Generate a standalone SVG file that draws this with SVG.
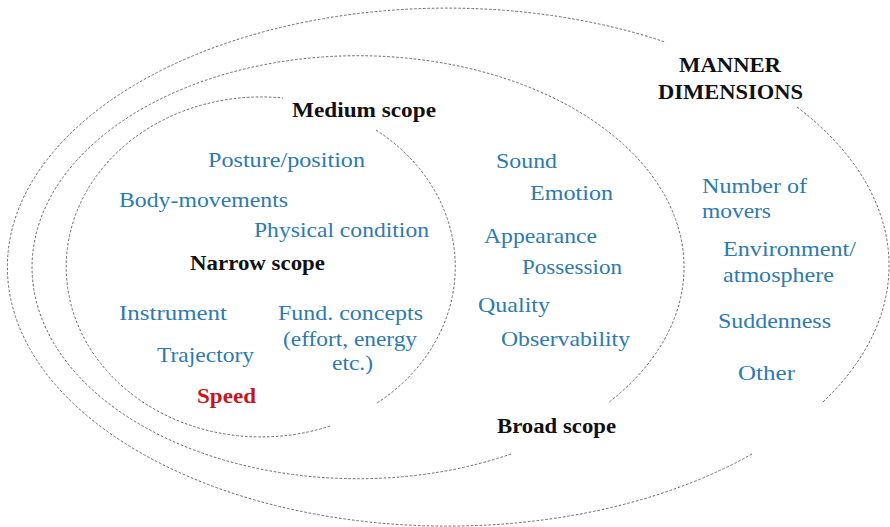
<svg xmlns="http://www.w3.org/2000/svg" width="890" height="527" viewBox="0 0 890 527">
<style>
.arc{fill:none;stroke:#6a6a6a;stroke-width:1;stroke-dasharray:2.6 1.8}
text{font-family:'Liberation Serif','Times New Roman','Noto Serif','DejaVu Serif',Times,serif}
.t{font-size:21px;fill:#2d7aae}
.h{font-size:20px;font-weight:bold;fill:#111}
.r{font-size:20px;font-weight:bold;fill:#c4161c}
</style>
<rect width="890" height="527" fill="#fff"/>
<g id="connectors">
<path class="arc" d="M376,130 A195,170 0 0 1 377,403"/>
<path class="arc" d="M330,426 A195,170 0 1 1 283,98"/>
<path class="arc" d="M511,454 A326,211.5 0 1 1 608,403"/>
<path class="arc" d="M797,107 A440,259 0 0 1 823,402"/>
<path class="arc" d="M752,454 A440,259 0 1 1 665,42"/>
</g>
<g id="manner-dimensions"><text class="h" x="730" y="72" text-anchor="middle" textLength="102" lengthAdjust="spacingAndGlyphs">MANNER</text><text class="h" x="730.5" y="99" text-anchor="middle" textLength="145" lengthAdjust="spacingAndGlyphs">DIMENSIONS</text></g>
<g id="medium-scope"><text class="h" x="292" y="117" textLength="144" lengthAdjust="spacingAndGlyphs">Medium scope</text></g>
<g id="narrow-scope"><text class="h" x="190" y="270" textLength="135" lengthAdjust="spacingAndGlyphs">Narrow scope</text></g>
<g id="broad-scope"><text class="h" x="497" y="433" textLength="119" lengthAdjust="spacingAndGlyphs">Broad scope</text></g>
<g id="posture"><text class="t" x="208" y="167" textLength="157" lengthAdjust="spacingAndGlyphs">Posture/position</text></g>
<g id="body-movements"><text class="t" x="119" y="207" textLength="169" lengthAdjust="spacingAndGlyphs">Body-movements</text></g>
<g id="physical-condition"><text class="t" x="254" y="237" textLength="175" lengthAdjust="spacingAndGlyphs">Physical condition</text></g>
<g id="instrument"><text class="t" x="119" y="320" textLength="108" lengthAdjust="spacingAndGlyphs">Instrument</text></g>
<g id="trajectory"><text class="t" x="157" y="362" textLength="97" lengthAdjust="spacingAndGlyphs">Trajectory</text></g>
<g id="speed"><text class="r" x="197" y="403" textLength="59" lengthAdjust="spacingAndGlyphs">Speed</text></g>
<g id="fund-concepts"><text class="t" x="350.5" y="320" text-anchor="middle" textLength="145" lengthAdjust="spacingAndGlyphs">Fund. concepts</text><text class="t" x="350" y="346" text-anchor="middle" textLength="134" lengthAdjust="spacingAndGlyphs">(effort, energy</text><text class="t" x="352.5" y="370" text-anchor="middle" textLength="41" lengthAdjust="spacingAndGlyphs">etc.)</text></g>
<g id="sound"><text class="t" x="496" y="168" textLength="61" lengthAdjust="spacingAndGlyphs">Sound</text></g>
<g id="emotion"><text class="t" x="530" y="200" textLength="83" lengthAdjust="spacingAndGlyphs">Emotion</text></g>
<g id="appearance"><text class="t" x="484" y="243" textLength="113" lengthAdjust="spacingAndGlyphs">Appearance</text></g>
<g id="possession"><text class="t" x="522" y="274" textLength="100" lengthAdjust="spacingAndGlyphs">Possession</text></g>
<g id="quality"><text class="t" x="478" y="312" textLength="72" lengthAdjust="spacingAndGlyphs">Quality</text></g>
<g id="observability"><text class="t" x="501" y="346" textLength="129" lengthAdjust="spacingAndGlyphs">Observability</text></g>
<g id="number-of-movers"><text class="t" x="702" y="193" textLength="105" lengthAdjust="spacingAndGlyphs">Number of</text><text class="t" x="702" y="218" textLength="69" lengthAdjust="spacingAndGlyphs">movers</text></g>
<g id="environment"><text class="t" x="723" y="256" textLength="133" lengthAdjust="spacingAndGlyphs">Environment/</text><text class="t" x="723" y="282" textLength="111" lengthAdjust="spacingAndGlyphs">atmosphere</text></g>
<g id="suddenness"><text class="t" x="718" y="328" textLength="113" lengthAdjust="spacingAndGlyphs">Suddenness</text></g>
<g id="other"><text class="t" x="738" y="380" textLength="57" lengthAdjust="spacingAndGlyphs">Other</text></g>
</svg>
